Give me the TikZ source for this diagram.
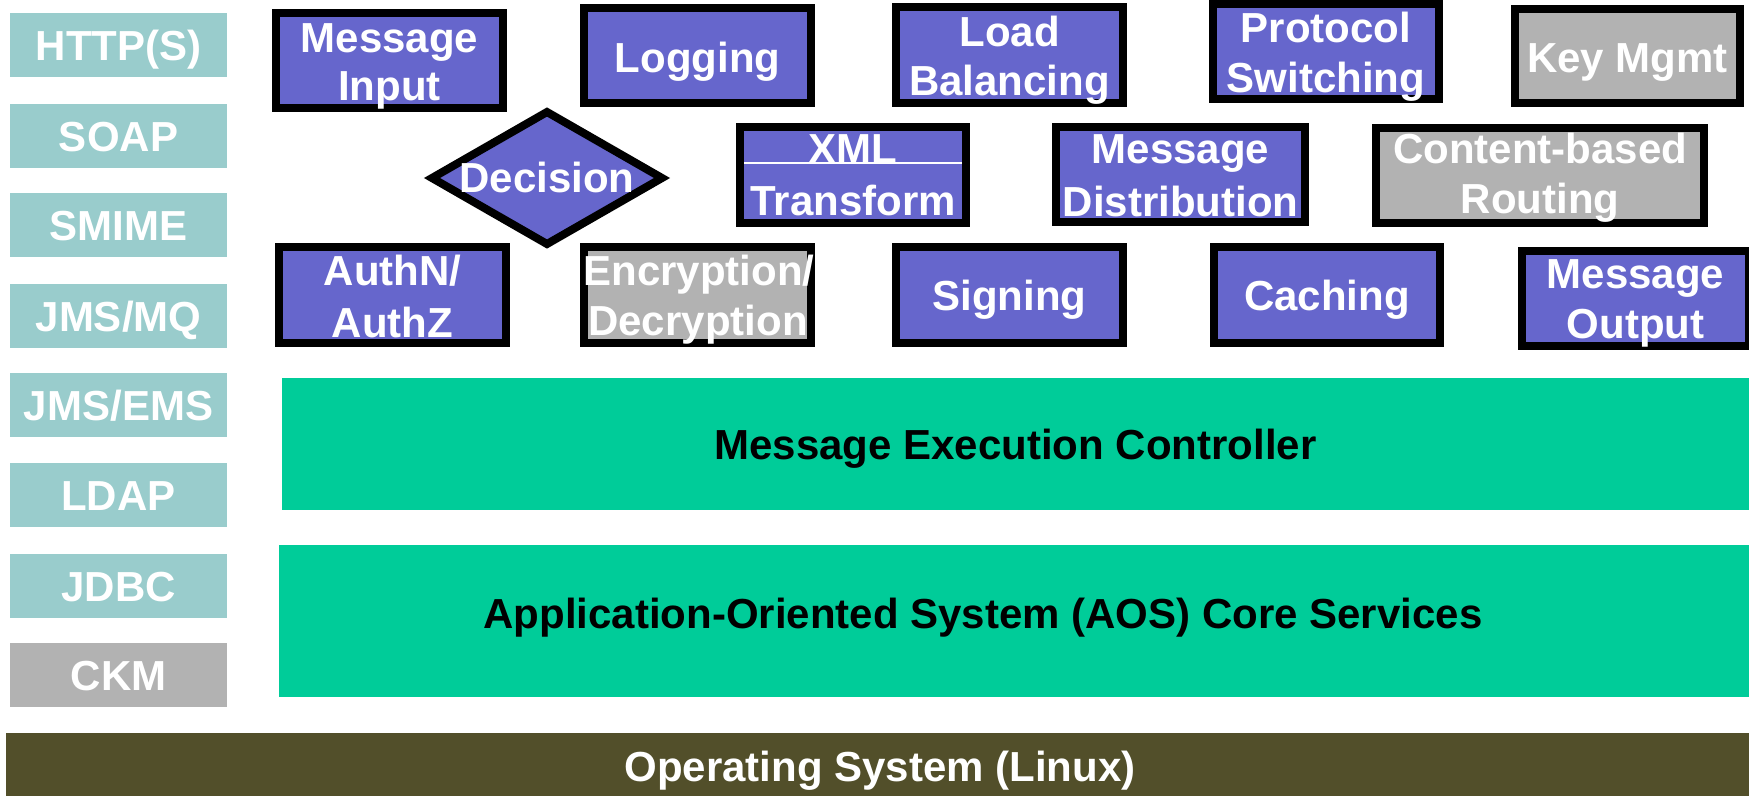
\documentclass[tikz,border=0pt]{standalone}
\usepackage{fontspec}
\setmainfont{Liberation Sans}
\usetikzlibrary{shapes.geometric,calc}
\definecolor{tealbox}{HTML}{99CCCC}
\definecolor{bluebox}{HTML}{6666CC}
\definecolor{graybox}{HTML}{B2B2B2}
\definecolor{greenbar}{HTML}{00CC99}
\definecolor{olivebar}{HTML}{524F2A}
\begin{document}
\begin{tikzpicture}[x=1pt,y=-1pt,
  every node/.style={inner sep=0pt, outer sep=0pt},
  fbox/.style={draw=black, line width=8pt, fill=bluebox, minimum width=227pt, minimum height=95pt},
  gbox/.style={fbox, fill=graybox},
  proto/.style={fill=tealbox, minimum width=217pt, minimum height=64pt},
  gproto/.style={proto, fill=graybox},
  lbl/.style={anchor=base, text=white, font=\fontsize{42}{50}\selectfont\bfseries},
  blbl/.style={lbl, text=black},
]
\useasboundingbox (0,0) rectangle (1749,796);

% left column
\node[proto]  (http)  at (118.5,45)  {};
\node[proto]  (soap)  at (118.5,136) {};
\node[proto]  (smime) at (118.5,225) {};
\node[proto]  (jmsmq) at (118.5,316) {};
\node[proto]  (jmsems) at (118.5,405) {};
\node[proto]  (ldap)  at (118.5,495) {};
\node[proto]  (jdbc)  at (118.5,586) {};
\node[gproto] (ckm)   at (118.5,675) {};
\node[lbl] (thttp)  at (118.5,60)  {HTTP(S)};
\node[lbl] (tsoap)  at (118.5,151) {SOAP};
\node[lbl] (tsmime) at (118.5,240) {SMIME};
\node[lbl] (tjmsmq) at (118.5,331) {JMS/MQ};
\node[lbl] (tjmsems) at (118.5,420) {JMS/EMS};
\node[lbl] (tldap)  at (118.5,510) {LDAP};
\node[lbl] (tjdbc)  at (118.5,601) {JDBC};
\node[lbl] (tckm)   at (118.5,690) {CKM};

% top row
\node[fbox] (mi)  at (389.5,60.5) {};
\node[fbox] (log) at (697.5,55.5) {};
\node[fbox, minimum height=96pt] (lb) at (1009.5,55) {};
\node[fbox, minimum width=226pt] (ps) at (1326,51.5) {};
\node[gbox, minimum width=225pt, minimum height=94pt] (km) at (1627.5,56) {};
\node[lbl] (tmi1) at (389.5,52)  {Message};
\node[lbl] (tmi2) at (389.5,100) {Input};
\node[lbl] (tlog) at (697.5,72)  {Logging};
\node[lbl] (tlb1) at (1009.5,46) {Load};
\node[lbl] (tlb2) at (1009.5,95) {Balancing};
\node[lbl] (tps1) at (1326,42)   {Protocol};
\node[lbl] (tps2) at (1326,92)   {Switching};
\node[lbl] (tkm)  at (1627.5,72) {Key Mgmt};

% middle row
\node[draw=black, line width=8pt, fill=bluebox, diamond, minimum width=230pt, minimum height=132pt] (dec) at (547,178) {};
\node[lbl] (tdec) at (547,192) {Decision};
\node[fbox, minimum width=226pt, minimum height=96pt] (xml) at (853,175) {};
\draw[white, line width=1.5pt] ($(xml.west)+(4,-12)$) -- ($(xml.east)+(-4,-12)$);
\node[lbl] (txml1) at (853,163) {XML};
\node[lbl] (txml2) at (853,215) {Transform};
\node[fbox, minimum width=249pt] (md) at (1180.5,174.5) {};
\node[lbl] (tmd1) at (1180.5,163) {Message};
\node[lbl] (tmd2) at (1180.5,216) {Distribution};
\node[gbox, minimum width=328pt] (cbr) at (1540,175.5) {};
\node[lbl] (tcbr1) at (1540,163) {Content-based};
\node[lbl] (tcbr2) at (1540,213) {Routing};

% bottom row of boxes
\node[fbox, minimum height=96pt] (auth) at (392.5,295) {};
\node[lbl] (tauth1) at (392.5,285) {AuthN/};
\node[lbl] (tauth2) at (392.5,337) {AuthZ};
\node[gbox, minimum height=96pt] (enc) at (697.5,295) {};
\node[lbl] (tenc1) at (699,285) {Encryption/};
\node[lbl] (tenc2) at (698,335) {Decryption};
\node[fbox, minimum height=96pt] (sig) at (1009.5,295) {};
\node[lbl] (tsig) at (1009.5,310) {Signing};
\node[fbox, minimum width=226pt, minimum height=96pt] (cach) at (1327,295) {};
\node[lbl] (tcach) at (1327,310) {Caching};
\node[fbox] (mo) at (1635.5,298.5) {};
\node[lbl] (tmo1) at (1635.5,288) {Message};
\node[lbl] (tmo2) at (1635.5,338) {Output};

% layers
\node[fill=greenbar, minimum width=1467pt, minimum height=132pt] (mec) at (1015.5,444) {};
\node[blbl] (tmec) at (1015.5,459) {Message Execution Controller};
\node[fill=greenbar, minimum width=1470pt, minimum height=152pt] (aos) at (1014,621) {};
\node[blbl] (taos) at (983,628) {Application-Oriented System (AOS) Core Services};
\node[fill=olivebar, minimum width=1743pt, minimum height=63pt] (os) at (877.5,764.5) {};
\node[lbl] (tos) at (880,781) {Operating System (Linux)};
\end{tikzpicture}
\end{document}
